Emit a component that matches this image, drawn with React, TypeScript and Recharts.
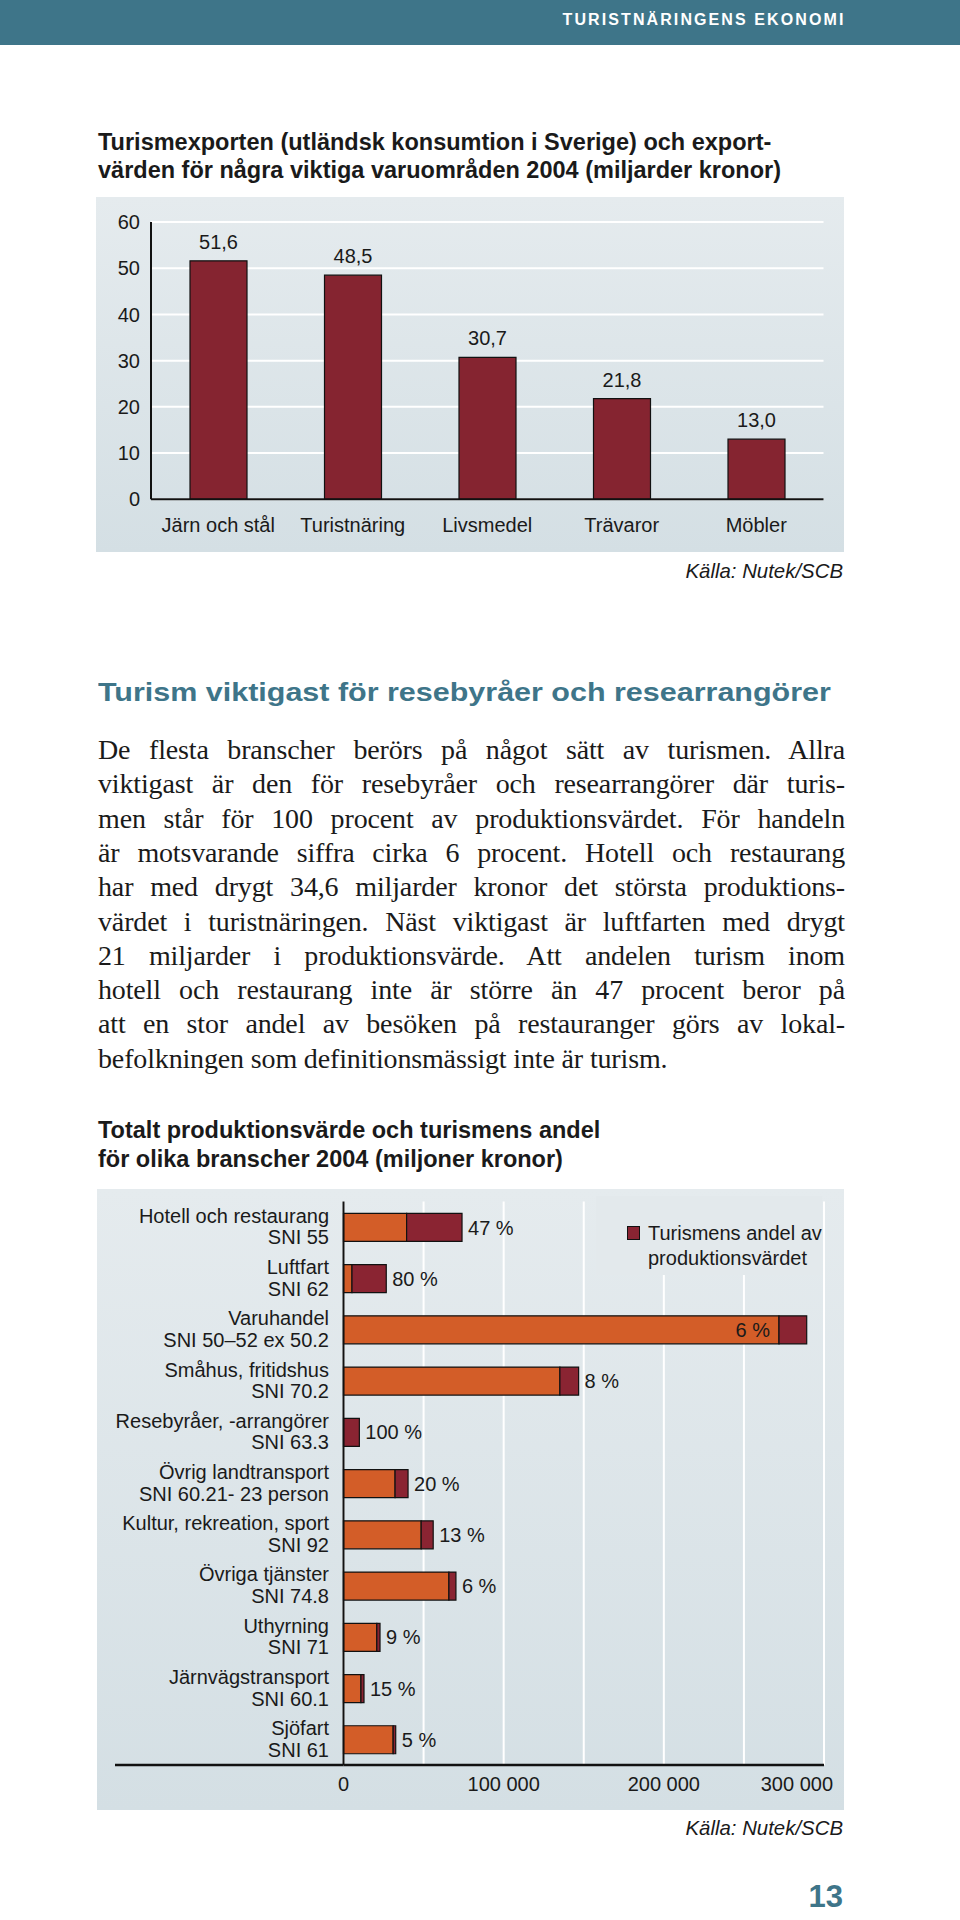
import React from "react";
import {
  BarChart,
  Bar,
  XAxis,
  YAxis,
  CartesianGrid,
  LabelList,
  Legend,
  ReferenceLine,
} from "recharts";

// chart 1: export values 2004 (miljarder kronor)
const exportCategories = ["Järn och stål", "Turistnäring", "Livsmedel", "Trävaror", "Möbler"];
const exportValues = [51.6, 48.5, 30.7, 21.8, 13.0];
const exportTicks = [0, 10, 20, 30, 40, 50, 60];

// chart 2: production value and tourism share 2004 (miljoner kronor)
const branchNames = [
  "Hotell och restaurang",
  "Luftfart",
  "Varuhandel",
  "Småhus, fritidshus",
  "Resebyråer, -arrangörer",
  "Övrig landtransport",
  "Kultur, rekreation, sport",
  "Övriga tjänster",
  "Uthyrning",
  "Järnvägstransport",
  "Sjöfart",
];
const branchCodes = [
  "SNI 55",
  "SNI 62",
  "SNI 50–52 ex 50.2",
  "SNI 70.2",
  "SNI 63.3",
  "SNI 60.21- 23 person",
  "SNI 92",
  "SNI 74.8",
  "SNI 71",
  "SNI 60.1",
  "SNI 61",
];
const totalValues = [74000, 26700, 289200, 146800, 9900, 40300, 56000, 70200, 22800, 12800, 32600];
const tourismValues = [34600, 21400, 17300, 11700, 9900, 8100, 7500, 4400, 2000, 1900, 1600];
const shareLabels = ["47 %", "80 %", "6 %", "8 %", "100 %", "20 %", "13 %", "6 %", "9 %", "15 %", "5 %"];
const shareInside = [false, false, true, false, false, false, false, false, false, false, false];
const productionTicks = [0, 50000, 100000, 150000, 200000, 250000, 300000];

const exportData = exportCategories.map((name, i) => ({
  name,
  value: exportValues[i],
  label: exportValues[i].toFixed(1).replace(".", ","),
}));

const branchData = branchNames.map((name, i) => ({
  name,
  rest: totalValues[i] - tourismValues[i],
  tourism: tourismValues[i],
  share: shareLabels[i],
}));

const SANS = '"Liberation Sans", Arial, Helvetica, sans-serif';
const SERIF = '"Liberation Serif", "Times New Roman", serif';
const TEAL = "#3e7589";
const INK = "#1a1a1a";
const PANEL_BG = "linear-gradient(#e5ebee, #d4dfe4)";
const ORANGE = "#d35d28";
const DARK = "#8a2432";

const bodyLines = [
  "De flesta branscher berörs på något sätt av turismen. Allra",
  "viktigast är den för resebyråer och researrangörer där turis-",
  "men står för 100 procent av produktionsvärdet. För handeln",
  "är motsvarande siffra cirka 6 procent. Hotell och restaurang",
  "har med drygt 34,6 miljarder kronor det största produktions-",
  "värdet i turistnäringen. Näst viktigast är luftfarten med drygt",
  "21 miljarder i produktionsvärde. Att andelen turism inom",
  "hotell och restaurang inte är större än 47 procent beror på",
  "att en stor andel av besöken på restauranger görs av lokal-",
  "befolkningen som definitionsmässigt inte är turism.",
];

const ProductionTick = (props: any) => {
  const { x, y, payload } = props;
  if (payload.value % 100000 !== 0) return <g />;
  const last = payload.value === 300000;
  return (
    <text
      x={last ? x + 9 : x}
      y={y + 19}
      dy="0.355em"
      textAnchor={last ? "end" : "middle"}
      fontSize={20}
      fill={INK}
    >
      {payload.value === 0 ? "0" : `${payload.value / 1000} 000`}
    </text>
  );
};

const BranchTick = (props: any) => {
  const { x, y, payload } = props;
  const i = branchNames.indexOf(payload.value);
  return (
    <text x={x} y={y} textAnchor="end" fontSize={20} fill={INK}>
      <tspan x={x} y={y - 11.3} dy="0.355em">
        {payload.value}
      </tspan>
      <tspan x={x} y={y + 10.3} dy="0.355em">
        {branchCodes[i]}
      </tspan>
    </text>
  );
};

const ShareLabel = (props: any) => {
  const box = props.viewBox && props.viewBox.width != null ? props.viewBox : props;
  const { x, y, width, height } = box;
  const inside = shareInside[props.index];
  return (
    <text
      x={inside ? x - 9 : x + width + 6}
      y={y + height / 2}
      dy="0.355em"
      textAnchor={inside ? "end" : "start"}
      fontSize={20}
      fill={INK}
    >
      {props.value}
    </text>
  );
};

// x axis line continues left under the branch labels
const AxisExtension = (props: any) => {
  const { x1, y1, y2 } = props;
  const yb = Math.max(y1, y2);
  return <line x1={x1 - 228.5} y1={yb} x2={x1} y2={yb} stroke="#111" strokeWidth={2.5} />;
};

const LegendBox = () => (
  <div style={{ position: "relative", width: 226, height: 79, background: "#e3e9ec" }}>
    <div
      style={{
        position: "absolute",
        left: 30.7,
        top: 30,
        width: 13.3,
        height: 14,
        background: DARK,
        border: "1px solid #111",
        boxSizing: "border-box",
      }}
    />
    <div
      style={{
        position: "absolute",
        left: 52,
        top: 25.2,
        fontSize: 20,
        lineHeight: "25px",
        color: INK,
        whiteSpace: "nowrap",
      }}
    >
      Turismens andel av
      <br />
      produktionsvärdet
    </div>
  </div>
);

const abs = (left: number, top: number, extra: React.CSSProperties = {}): React.CSSProperties => ({
  position: "absolute",
  left,
  top,
  ...extra,
});

export default function App() {
  return (
    <div
      style={{
        position: "absolute",
        left: 0,
        top: 0,
        width: 960,
        height: 1920,
        background: "#fff",
        fontFamily: SANS,
        color: INK,
        overflow: "hidden",
      }}
    >
      {/* header band */}
      <div style={abs(0, 0, { width: 960, height: 45, background: TEAL })} />
      <div
        style={{
          position: "absolute",
          right: 114.5,
          top: 10,
          lineHeight: "20px",
          fontSize: 16,
          fontWeight: 700,
          letterSpacing: 2.1,
          color: "#fff",
        }}
      >
        TURISTNÄRINGENS EKONOMI
      </div>

      {/* chart 1 */}
      <div style={abs(98, 127.5, { fontSize: 23.5, fontWeight: 700, lineHeight: "28.3px", whiteSpace: "nowrap" })}>
        Turismexporten (utländsk konsumtion i Sverige) och export-
        <br />
        värden för några viktiga varuområden 2004 (miljarder kronor)
      </div>
      <div style={abs(96, 197, { width: 748, height: 355, background: PANEL_BG })}>
        <BarChart
          width={748}
          height={355}
          data={exportData}
          margin={{ top: 25, right: 20.5, bottom: 22.7, left: 0 }}
        >
          <CartesianGrid vertical={false} stroke="#fff" strokeWidth={2} />
          <XAxis
            dataKey="name"
            height={30}
            interval={0}
            tickLine={false}
            tickMargin={12}
            axisLine={{ stroke: "#111", strokeWidth: 2 }}
            tick={{ fill: INK, fontSize: 20 }}
          />
          <YAxis
            width={55}
            domain={[0, 60]}
            ticks={exportTicks}
            interval={0}
            tickLine={false}
            tickMargin={5}
            axisLine={{ stroke: "#111", strokeWidth: 2 }}
            tick={{ fill: INK, fontSize: 20 }}
          />
          <Bar
            dataKey="value"
            fill="#852430"
            stroke="#111"
            strokeWidth={1.2}
            barSize={57}
            isAnimationActive={false}
          >
            <LabelList dataKey="label" position="top" offset={12} fill={INK} fontSize={20} />
          </Bar>
        </BarChart>
      </div>
      <div style={{ position: "absolute", right: 117, top: 559, fontSize: 20.4, lineHeight: "24px", fontStyle: "italic" }}>
        Källa: Nutek/SCB
      </div>

      {/* text section */}
      <div
        style={abs(98, 675, {
          fontSize: 26.5,
          fontWeight: 700,
          lineHeight: "34px",
          color: TEAL,
          whiteSpace: "nowrap",
          transform: "scaleX(1.15)",
          transformOrigin: "left center",
        })}
      >
        Turism viktigast för resebyråer och researrangörer
      </div>
      {bodyLines.map((line, i) => (
        <div
          key={i}
          style={abs(98, 733 + i * 34.3, {
            width: 747,
            height: 34.3,
            fontFamily: SERIF,
            fontSize: 28,
            letterSpacing: -0.15,
            lineHeight: "34.3px",
            textAlign: "justify",
            textAlignLast: i === bodyLines.length - 1 ? "left" : "justify",
            whiteSpace: "nowrap",
          })}
        >
          {line}
        </div>
      ))}

      {/* chart 2 */}
      <div style={abs(98, 1116.3, { fontSize: 23.5, fontWeight: 700, lineHeight: "28.3px", whiteSpace: "nowrap" })}>
        Totalt produktionsvärde och turismens andel
        <br />
        för olika branscher 2004 (miljoner kronor)
      </div>
      <div style={abs(97, 1189, { width: 747, height: 621, background: PANEL_BG })}>
        <BarChart
          layout="vertical"
          width={747}
          height={621}
          data={branchData}
          barSize={28}
          margin={{ top: 12.4, right: 20, bottom: 15, left: 0 }}
        >
          <CartesianGrid horizontal={false} stroke="#fff" strokeWidth={2} />
          <XAxis
            type="number"
            domain={[0, 300000]}
            ticks={productionTicks}
            interval={0}
            height={30}
            tickLine={false}
            tickSize={0}
            tickMargin={0}
            axisLine={{ stroke: "#111", strokeWidth: 2.5 }}
            tick={<ProductionTick />}
          />
          <YAxis
            type="category"
            dataKey="name"
            width={246.5}
            interval={0}
            tickLine={false}
            tickMargin={8.5}
            axisLine={{ stroke: "#111", strokeWidth: 2 }}
            tick={<BranchTick />}
          />
          <ReferenceLine x={0} stroke="#111" shape={AxisExtension} />
          <Bar
            dataKey="rest"
            stackId="a"
            fill={ORANGE}
            stroke="#111"
            strokeWidth={1.2}
            isAnimationActive={false}
          />
          <Bar
            dataKey="tourism"
            stackId="a"
            fill={DARK}
            stroke="#111"
            strokeWidth={1.2}
            isAnimationActive={false}
          >
            <LabelList dataKey="share" content={ShareLabel} />
          </Bar>
          <Legend
            layout="horizontal"
            verticalAlign="middle"
            align="center"
            content={LegendBox}
            wrapperStyle={{ left: 499, top: 7, width: 226, height: 79 }}
          />
        </BarChart>
      </div>
      <div style={{ position: "absolute", right: 117, top: 1816, fontSize: 20.4, lineHeight: "24px", fontStyle: "italic" }}>
        Källa: Nutek/SCB
      </div>

      <div
        style={{
          position: "absolute",
          right: 117,
          top: 1879,
          fontSize: 31,
          lineHeight: "36px",
          fontWeight: 700,
          color: TEAL,
        }}
      >
        13
      </div>
    </div>
  );
}
